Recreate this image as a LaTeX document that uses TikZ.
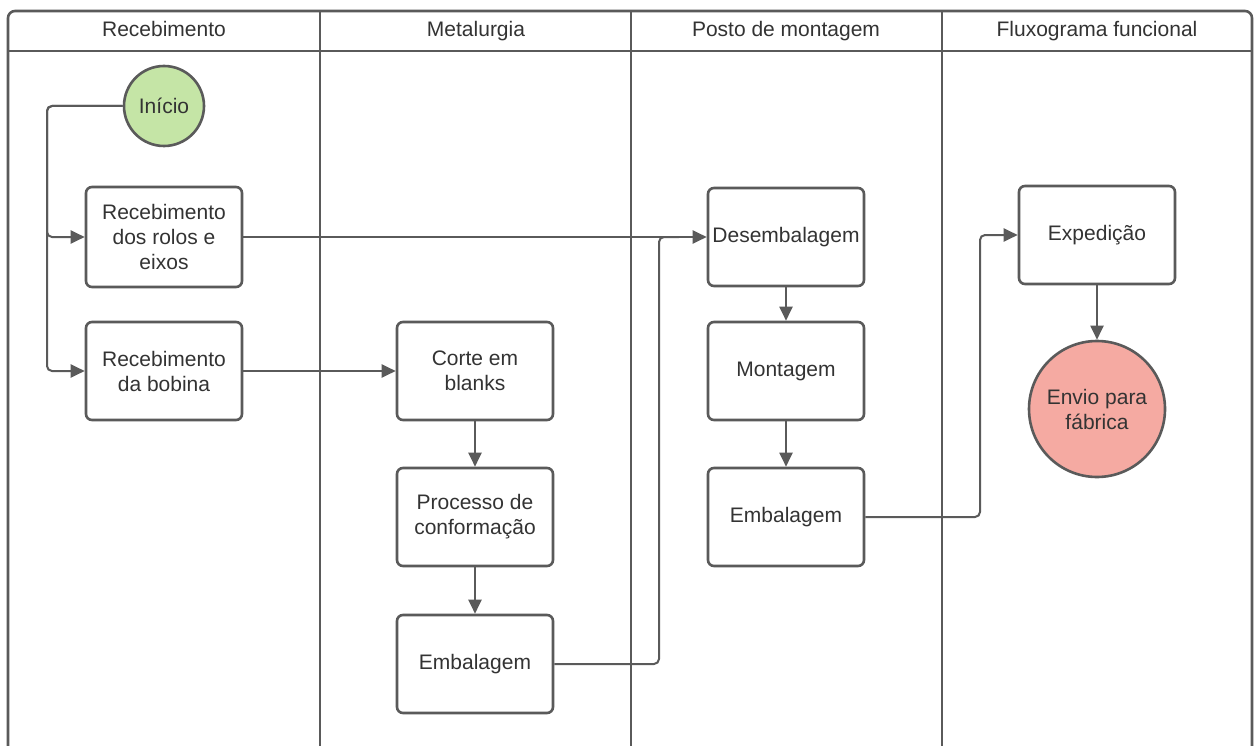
\documentclass[tikz,border=0pt]{standalone}
\usepackage{fontspec}
\setmainfont{Liberation Sans}
\usetikzlibrary{arrows.meta}
\definecolor{ln}{HTML}{5A5A5A}
\definecolor{tx}{HTML}{333333}
\definecolor{gfill}{HTML}{C5E5A6}
\definecolor{rfill}{HTML}{F5AAA2}
\tikzset{
  lane/.style={draw=ln, line width=2.6pt},
  procbox/.style={draw=ln, line width=2.6pt, rounded corners=6pt, fill=white,
    minimum width=156pt, minimum height=98pt, inner sep=1pt, align=center,
    text=tx, font=\fontsize{21}{25}\selectfont},
  term/.style={draw=ln, line width=2.6pt, circle, inner sep=0pt, align=center,
    text=tx, font=\fontsize{21}{25}\selectfont},
  hdr/.style={text=tx, font=\fontsize{21}{25}\selectfont, anchor=base},
  flow/.style={draw=ln, line width=2pt, rounded corners=5pt,
    -{Triangle[length=14pt,width=13pt]}},
  flowplain/.style={draw=ln, line width=2pt, rounded corners=5pt}
}
\begin{document}
\begin{tikzpicture}[x=1pt,y=-1pt]
\useasboundingbox (0,0) rectangle (1258,746);
\fill[white] (0,0) rectangle (1258,746);
% lanes
\draw[lane, rounded corners=7pt] (8,746) -- (8,11) -- (1252,11) -- (1252,746);
\draw[lane] (8,51) -- (1252,51);
\draw[lane] (320,11) -- (320,746);
\draw[lane] (631,11) -- (631,746);
\draw[lane] (942,11) -- (942,746);
\node[hdr] (h1) at (164,37) {Recebimento};
\node[hdr] (h2) at (476,37) {Metalurgia};
\node[hdr] (h3) at (786,37) {Posto de montagem};
\node[hdr] (h4) at (1097,37) {Fluxograma funcional};
% nodes
\node[term, fill=gfill, minimum size=80pt] (ini) at (164,106) {Início};
\node[procbox, minimum height=100pt] (rolos) at (164,237) {Recebimento\\dos rolos e\\eixos};
\node[procbox] (bob) at (164,371) {Recebimento\\da bobina};
\node[procbox] (corte) at (475,371) {Corte em\\blanks};
\node[procbox] (proc) at (475,517) {Processo de\\conformação};
\node[procbox] (emb1) at (475,664) {Embalagem};
\node[procbox] (desemb) at (786,237) {Desembalagem};
\node[procbox] (mont) at (786,371) {Montagem};
\node[procbox] (emb2) at (786,517) {Embalagem};
\node[procbox] (exped) at (1097,235) {Expedição};
\node[term, fill=rfill, minimum size=136pt] (envio) at (1097,409) {Envio para\\fábrica};
% connectors
\coordinate (j1) at (47,106);
\draw[flow] (ini.west) -- (j1) |- (rolos.west);
\draw[flow] (ini.west) -- (j1) |- (bob.west);
\draw[flow] (rolos.east) -- (desemb.west);
\draw[flow] (bob.east) -- (corte.west);
\draw[flow] (corte) -- (proc);
\draw[flow] (proc) -- (emb1);
\coordinate (j2) at (659,664);
\coordinate (j3) at (659,237);
\draw[flowplain] (emb1.east) -- (j2) -- (j3) -- ++(20,0);
\draw[flow] (desemb) -- (mont);
\draw[flow] (mont) -- (emb2);
\coordinate (j4) at (980,517);
\draw[flow] (emb2.east) -- (j4) |- (exped.west);
\draw[flow] (exped) -- (envio);
\end{tikzpicture}
\end{document}
